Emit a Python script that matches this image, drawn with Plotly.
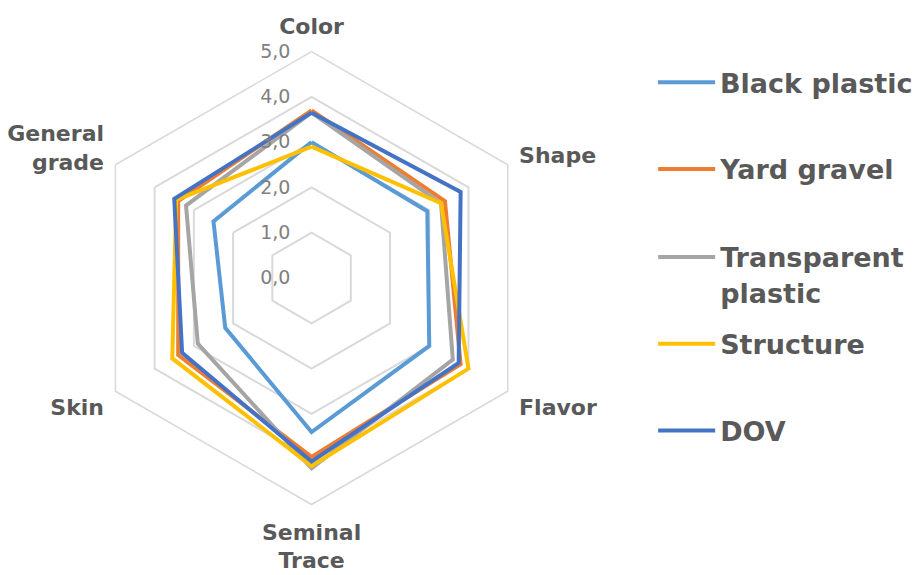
import plotly.graph_objects as go

# Sensory attributes scored on a 0-5 scale
attributes = ["Color", "Shape", "Flavor", "Seminal<br>Trace", "Skin", "General<br>grade"]

series_names = ["Black plastic", "Yard gravel", "Transparent<br>plastic", "Structure", "DOV"]
black_plastic = [3.0, 2.95, 3.0, 3.4, 2.2, 2.5]
yard_gravel = [3.7, 3.4, 3.8, 3.95, 3.4, 3.4]
transparent_plastic = [3.65, 3.3, 3.6, 4.2, 2.9, 3.2]
structure = [2.9, 3.3, 4.0, 4.15, 3.55, 3.45]
dov = [3.65, 3.8, 3.75, 4.05, 3.3, 3.5]

radial_ticks = [0, 1, 2, 3, 4, 5]

series_values = [black_plastic, yard_gravel, transparent_plastic, structure, dov]
colors = ["#5B9BD5", "#ED7D31", "#A5A5A5", "#FFC000", "#4472C4"]
legend_ids = ["legend", "legend2", "legend3", "legend4", "legend5"]
legend_y = [0.899, 0.748, 0.595, 0.444, 0.293]

fig = go.Figure()
for name, vals, col, lid in zip(series_names, series_values, colors, legend_ids):
    fig.add_trace(go.Scatterpolar(
        r=vals + vals[:1],
        theta=attributes + attributes[:1],
        mode="lines",
        name=name,
        line=dict(color=col, width=4),
        legend=lid,
    ))

legend_font = dict(family="DejaVu Sans", size=27, color="#595959", weight="bold")
legend_common = dict(
    x=0.7225, xanchor="left", yanchor="top",
    font=legend_font, itemwidth=57, valign="top",
    bgcolor="rgba(0,0,0,0)", borderwidth=0,
)
layout_legends = {}
for lid, ly in zip(legend_ids, legend_y):
    layout_legends[lid] = dict(legend_common, y=ly)

fig.update_layout(
    width=918, height=575,
    margin=dict(l=0, r=0, t=0, b=0),
    paper_bgcolor="white",
    separators=",.",
    showlegend=True,
    polar=dict(
        domain=dict(x=[0.0941, 0.5952], y=[0.1165, 0.9165]),
        gridshape="linear",
        bgcolor="white",
        radialaxis=dict(
            range=[0, 5],
            tickvals=radial_ticks,
            tickformat=".1f",
            angle=90,
            tickangle=90,
            side="counterclockwise",
            showline=False,
            ticks="outside",
            ticklen=14,
            tickcolor="rgba(0,0,0,0)",
            showgrid=True,
            gridcolor="#D9D9D9",
            gridwidth=1.5,
            tickfont=dict(family="DejaVu Sans", size=19, color="#808080"),
        ),
        angularaxis=dict(
            direction="clockwise",
            rotation=90,
            showgrid=False,
            showline=True,
            linecolor="#D9D9D9",
            linewidth=1.5,
            ticks="outside",
            ticklen=8,
            tickcolor="rgba(0,0,0,0)",
            tickfont=dict(family="DejaVu Sans", size=22, color="#595959", weight="bold"),
        ),
    ),
    **layout_legends,
)

fig.write_html("out.html")
